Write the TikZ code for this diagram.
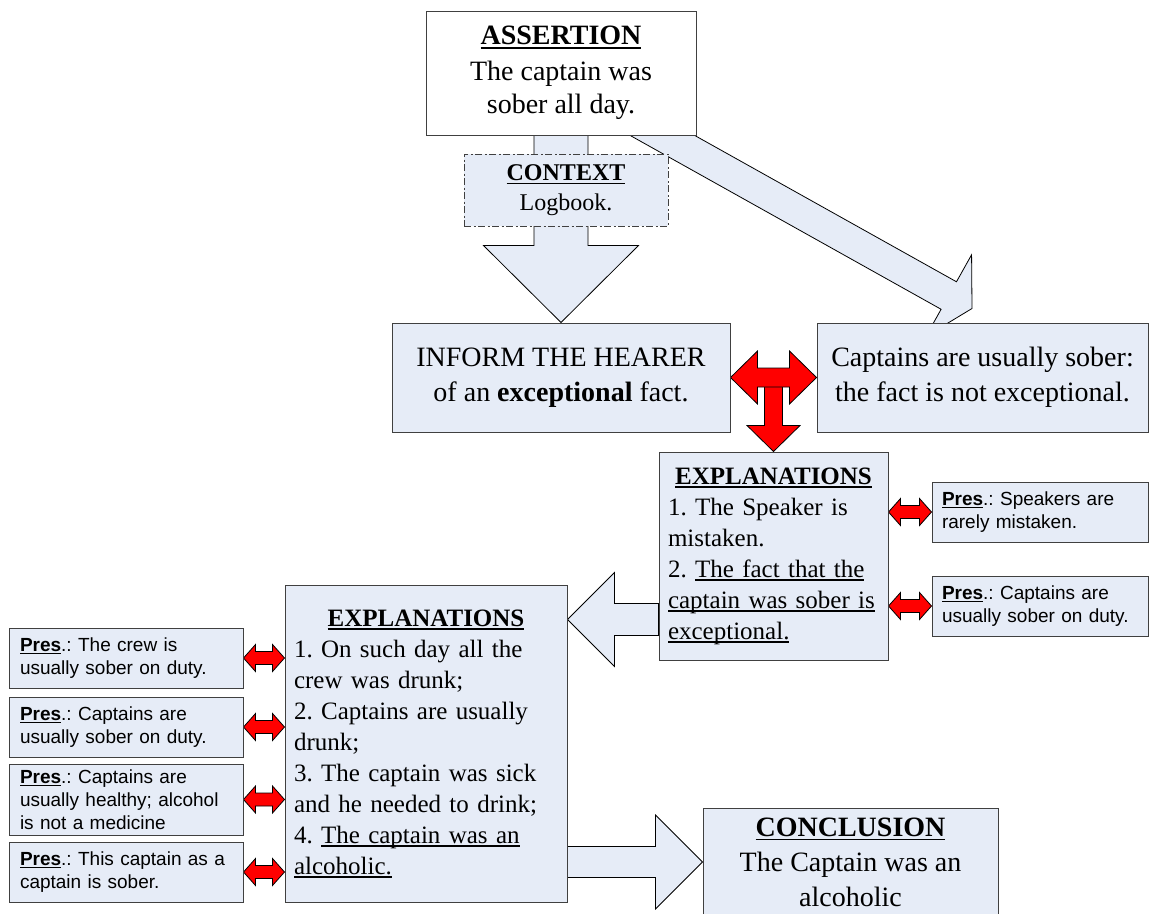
\documentclass[tikz,border=0pt]{standalone}
\usepackage{fontspec}
\setmainfont{Liberation Serif}
\setsansfont{Liberation Sans}
\usetikzlibrary{calc, backgrounds}
\definecolor{paleblue}{RGB}{230,236,247}
\definecolor{alarmred}{RGB}{255,0,0}
\frenchspacing
\newsavebox\ulbox
\newcommand{\uln}[1]{\leavevmode\sbox\ulbox{#1}\rlap{\rule[-0.14em]{\wd\ulbox}{0.05em}}\usebox\ulbox}
\newcommand{\bigfont}{\fontsize{28}{35}\selectfont}
\newcommand{\midfont}{\fontsize{25}{31}\selectfont}
\newcommand{\ctxfont}{\fontsize{24}{30}\selectfont}
\newcommand{\presfont}{\sffamily\fontsize{19}{23}\selectfont}
\newcommand{\pres}{\textbf{\uln{Pres}}.:}
\tikzstyle{card} = [rectangle, draw=black!75, line width=1pt, fill=paleblue, inner sep=0pt]
\tikzstyle{claim} = [card, font=\bigfont, align=center]
\tikzstyle{ctx} = [card, font=\ctxfont, align=center, dash pattern=on 7pt off 2.5pt on 2pt off 2.5pt]
\tikzstyle{expl} = [card, font=\midfont, align=left, inner xsep=9pt]
\tikzstyle{presbox} = [card, font=\presfont, align=left, minimum height=60pt]
\tikzstyle{fatarrow} = [draw=black, line width=0.8pt, fill=paleblue]
\tikzstyle{redarrow} = [draw=black, line width=0.8pt, fill=alarmred]
% from, to, shaft half width, head half width, head length
\newcommand{\flowarrow}[6][fatarrow]{%
  \draw[#1] ($(#2)!#4!90:(#3)$)
    -- ($(#3)!#6!(#2)!#4!-90:(#2)$)
    -- ($(#3)!#6!(#2)!#5!-90:(#2)$)
    -- (#3)
    -- ($(#3)!#6!(#2)!#5!90:(#2)$)
    -- ($(#3)!#6!(#2)!#4!90:(#2)$)
    -- ($(#2)!#4!-90:(#3)$) -- cycle;}
\newcommand{\twinarrow}[6][redarrow]{%
  \draw[#1] (#2)
    -- ($(#2)!#6!(#3)!#5!90:(#3)$)
    -- ($(#2)!#6!(#3)!#4!90:(#3)$)
    -- ($(#3)!#6!(#2)!#4!-90:(#2)$)
    -- ($(#3)!#6!(#2)!#5!-90:(#2)$)
    -- (#3)
    -- ($(#3)!#6!(#2)!#5!90:(#2)$)
    -- ($(#3)!#6!(#2)!#4!90:(#2)$)
    -- ($(#2)!#6!(#3)!#4!-90:(#3)$)
    -- ($(#2)!#6!(#3)!#5!-90:(#3)$) -- cycle;}
\begin{document}
\begin{tikzpicture}[x=1pt, y=-1pt]
\useasboundingbox (0,0) rectangle (1150,913);
\node(assert)[claim, fill=white, font=\fontsize{28}{33}\selectfont, minimum width=270pt, minimum height=124pt] at (561,73) {\textbf{\uln{ASSERTION}}\\[3pt]The captain was\\sober all day.};
\node(context)[ctx, minimum width=204pt, minimum height=72pt] at (566,190) {\textbf{\uln{CONTEXT}}\\Logbook.};
\node(inform)[claim, minimum width=338pt, minimum height=109pt] at (561,377.5) {INFORM THE HEARER\\of an \textbf{exceptional} fact.};
\node(captains)[claim, minimum width=331pt, minimum height=109pt] at (982.5,377.5) {Captains are usually sober:\\the fact is not exceptional.};
\node(expl1)[expl, text width=211pt, minimum height=208pt] at (773.5,556) {\makebox[\hsize]{\textbf{\uln{EXPLANATIONS}}}\\1. The Speaker is\\mistaken.\\2. \uln{The fact that the}\\\uln{captain was sober is}\\\uln{exceptional.}};
\node(pres1)[presbox, text width=196pt, inner xsep=10pt] at (1040,512) {\pres{} Speakers are\\rarely mistaken.};
\node(pres2)[presbox, text width=196pt, inner xsep=10pt] at (1040,606) {\pres{} Captains are\\usually sober on duty.};
\node(expl2)[expl, text width=264pt, minimum height=317pt] at (426,743.5) {\makebox[\hsize]{\textbf{\uln{EXPLANATIONS}}}\\1. On such day all the\\crew was drunk;\\2. Captains are usually\\drunk;\\3. The captain was sick\\and he needed to drink;\\4. \uln{The captain was an}\\\uln{alcoholic.}};
\node(pres3)[presbox, text width=212pt, inner xsep=11pt] at (126,658) {\pres{} The crew is\\usually sober on duty.};
\node(pres4)[presbox, text width=212pt, inner xsep=11pt] at (126,727) {\pres{} Captains are\\usually sober on duty.};
\node(pres5)[presbox, text width=212pt, inner xsep=11pt, minimum height=71pt] at (126,799.5) {\pres{} Captains are\\usually healthy; alcohol\\is not a medicine};
\node(pres6)[presbox, text width=212pt, inner xsep=11pt] at (126,872) {\pres{} This captain as a\\captain is sober.};
\node(concl)[claim, minimum width=295pt, minimum height=108pt] at (850.5,862) {\textbf{\uln{CONCLUSION}}\\The Captain was an\\alcoholic};
\coordinate(diagfoot) at ([shift={(72,46)}]assert.center);
\coordinate(diagtip) at ([shift={(-10.5,-14)}]captains.north);
\coordinate(leftfoot) at ([shift={(0,63.5)}]expl1.west);
\coordinate(conclfoot) at ([shift={(0,118.5)}]expl2.east);
\coordinate(redfoot) at ($(inform.east)!0.5!(captains.west)$);
\begin{scope}[on background layer]
\flowarrow{diagfoot}{diagtip}{15.75pt}{46.7pt}{26.6pt}
\flowarrow{assert.south}{inform.north}{27pt}{77.5pt}{77pt}
\flowarrow{leftfoot}{expl2.east |- leftfoot}{16pt}{47pt}{47pt}
\flowarrow{conclfoot}{concl.west |- conclfoot}{15.5pt}{47pt}{47pt}
\flowarrow[redarrow]{redfoot}{expl1.north}{9pt}{26.5pt}{26pt}
\twinarrow{inform.east}{captains.west}{9.5pt}{26.5pt}{27pt}
\twinarrow{expl1.east |- pres1.west}{pres1.west}{6.5pt}{13.5pt}{12pt}
\twinarrow{expl1.east |- pres2.west}{pres2.west}{6.5pt}{13.5pt}{12pt}
\twinarrow{pres3.east}{expl2.west |- pres3.east}{6.5pt}{13.5pt}{12pt}
\twinarrow{pres4.east}{expl2.west |- pres4.east}{6.5pt}{13.5pt}{12pt}
\twinarrow{pres5.east}{expl2.west |- pres5.east}{6.5pt}{13.5pt}{12pt}
\twinarrow{pres6.east}{expl2.west |- pres6.east}{6.5pt}{13.5pt}{12pt}
\end{scope}
\end{tikzpicture}
\end{document}
